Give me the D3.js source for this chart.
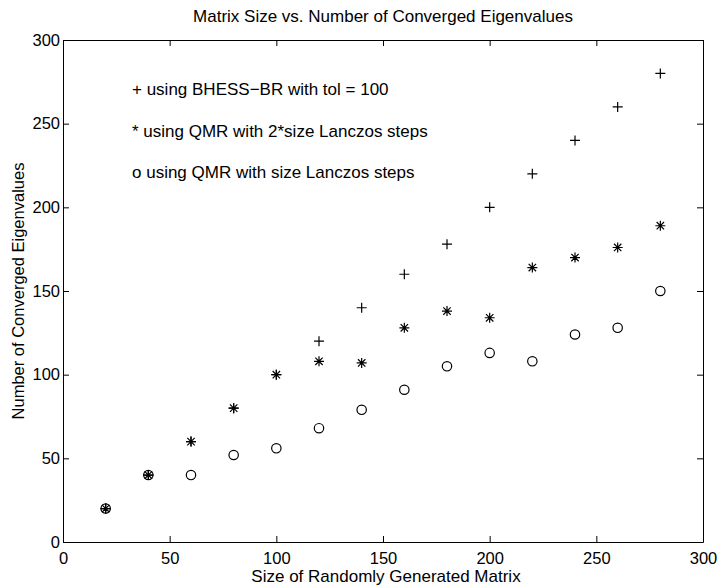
<!DOCTYPE html>
<html>
<head>
<meta charset="utf-8">
<script src="https://cdn.jsdelivr.net/npm/d3@7"></script>
<style>
body { margin: 0; background: #fff; }
svg text { font-family: Arial, "Liberation Sans", Helvetica, sans-serif; fill: #000; }
</style>
</head>
<body>
<script>
//data
var matrixSizes = [20, 40, 60, 80, 100, 120, 140, 160, 180, 200, 220, 240, 260, 280];
var bhessConverged = [20, 40, 60, 80, 100, 120, 140, 160, 178, 200, 220, 240, 260, 280]; // "+"
var qmr2Converged = [20, 40, 60, 80, 100, 108, 107, 128, 138, 134, 164, 170, 176, 189];  // "*"
var qmr1Converged = [20, 40, 40, 52, 56, 68, 79, 91, 105, 113, 108, 124, 128, 150];      // "o"
var xTicks = [0, 50, 100, 150, 200, 250, 300];
var yTicks = [0, 50, 100, 150, 200, 250, 300];
var legendLines = [
    "+ using BHESS\u2212BR with tol = 100",
    "* using QMR with 2*size Lanczos steps",
    "o using QMR with size Lanczos steps"
];
var titleText = "Matrix Size vs. Number of Converged Eigenvalues";
var xLabel = "Size of Randomly Generated Matrix";
var yLabel = "Number of Converged Eigenvalues";

(function(){

var width = 717, height = 585;
var margin = {top: 40, right: 14, bottom: 43, left: 63};
var w = width - margin.left - margin.right,
    h = height - margin.top - margin.bottom;

var svg = d3.select("body")
    .append("svg")
    .attr("width", width)
    .attr("height", height);

var g = svg.append("g")
    .attr("transform", "translate(" + margin.left + "," + margin.top + ")");

var x = d3.scaleLinear().domain([0, 300]).range([0, w]);
var y = d3.scaleLinear().domain([0, 300]).range([h, 0]);

//axes with ticks pointing inward, MATLAB box style
g.append("g")
    .attr("transform", "translate(0," + h + ")")
    .call(d3.axisBottom(x).tickValues(xTicks).tickSizeInner(-6).tickSizeOuter(0).tickPadding(10));
g.append("g")
    .call(d3.axisLeft(y).tickValues(yTicks).tickSizeInner(-6).tickSizeOuter(0).tickPadding(3));
g.append("g")
    .call(d3.axisTop(x).tickValues(xTicks).tickSizeInner(-6).tickSizeOuter(0).tickFormat(""));
g.append("g")
    .attr("transform", "translate(" + w + ",0)")
    .call(d3.axisRight(y).tickValues(yTicks).tickSizeInner(-6).tickSizeOuter(0).tickFormat(""));

g.selectAll(".domain, .tick line").attr("stroke", "#000").attr("stroke-width", 1);
g.selectAll(".tick text")
    .style("font-size", "16.5px")
    .style("font-family", "Arial, 'Liberation Sans', sans-serif");

//markers
var plusPath = "M-5,0H5M0,-5V5";
var starPath = plusPath + "M-3.7,-3.7L3.7,3.7M-3.7,3.7L3.7,-3.7";

function drawMarkers(values, shape, cls){
    var pts = matrixSizes.map(function(s, i){ return [s, values[i]]; });
    var sel = g.selectAll("." + cls)
        .data(pts)
        .enter();
    if (shape == "circle"){
        sel.append("circle")
            .attr("class", cls)
            .attr("cx", function(d){ return x(d[0]); })
            .attr("cy", function(d){ return y(d[1]); })
            .attr("r", 4.7)
            .attr("fill", "none")
            .attr("stroke", "#000")
            .attr("stroke-width", 1.2);
    } else {
        sel.append("path")
            .attr("class", cls)
            .attr("transform", function(d){ return "translate(" + x(d[0]) + "," + y(d[1]) + ")"; })
            .attr("d", shape)
            .attr("fill", "none")
            .attr("stroke", "#000")
            .attr("stroke-width", 1.2);
    }
}
drawMarkers(qmr1Converged, "circle", "qmr1");
drawMarkers(qmr2Converged, starPath, "qmr2");
drawMarkers(bhessConverged, plusPath, "bhess");

//text annotations used as legend
g.selectAll(".legend")
    .data(legendLines)
    .enter()
    .append("text")
    .attr("class", "legend")
    .attr("x", 69)
    .attr("y", function(d, i){ return 55 + i * 41.5; })
    .style("font-size", "17px")
    .text(function(d){ return d; });

//title and axis labels
svg.append("text")
    .attr("x", margin.left + w / 2)
    .attr("y", 22)
    .attr("text-anchor", "middle")
    .style("font-size", "17px")
    .text(titleText);

svg.append("text")
    .attr("x", margin.left + w / 2 + 3)
    .attr("y", 582)
    .attr("text-anchor", "middle")
    .style("font-size", "17px")
    .text(xLabel);

svg.append("text")
    .attr("transform", "translate(24," + (margin.top + h / 2) + ") rotate(-90)")
    .attr("text-anchor", "middle")
    .style("font-size", "16.5px")
    .text(yLabel);

})();
</script>
</body>
</html>
